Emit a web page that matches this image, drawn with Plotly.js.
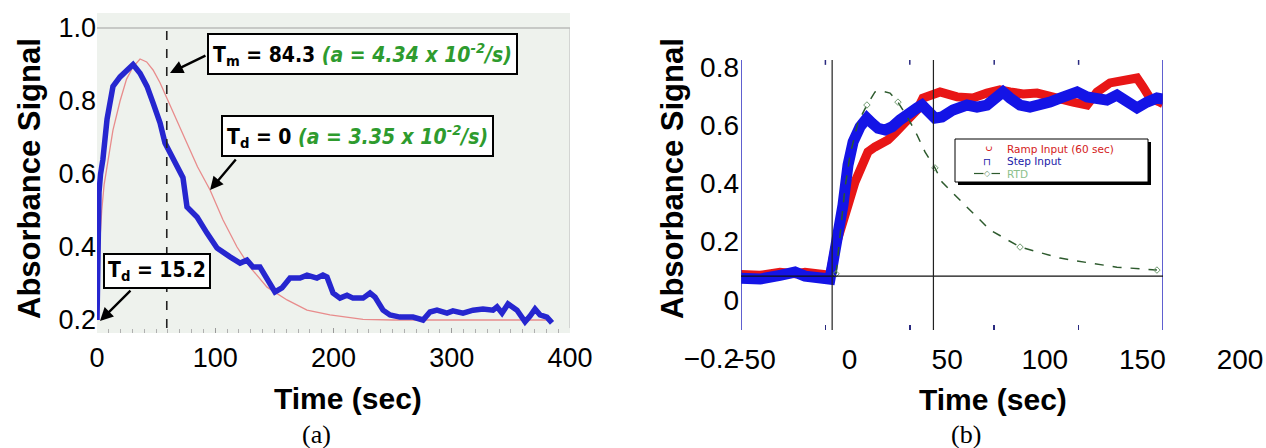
<!DOCTYPE html>
<html><head><meta charset="utf-8">
<script src="https://cdn.plot.ly/plotly-3.0.1.min.js"></script>
<style>html,body{margin:0;padding:0;background:#fff}#chart{width:1266px;height:448px}</style>
</head><body><div id="chart"></div>
<script>
// ---------- Panel (a) data ----------
const aMeasTime   = [0,0.8,1.7,3,5,8.5,13.5,19.5,25,30.5,36.4,42.3,47.4,53.3,57.5,61.7,64.3,67.6,72.7,76.1,84.6,93,101.5,112.5,121,126.8,131.9,137.8,143.8,150.5,156.4,163.2,171.7,177.6,186,191.1,194.5,199.6,205.5,211.4,216.5,225,230.9,235.1,241.9,247.8,256.2,267.2,275.7,281.6,287.5,296,301,309.5,318,326.4,334.9,338.3,342.5,347.6,355.2,359.4,362,366.2,370.4,374.6,380.5,384.8];
const aMeasSignal = [0.2,0.40,0.55,0.60,0.64,0.75,0.84,0.866,0.885,0.90,0.876,0.84,0.795,0.74,0.685,0.66,0.64,0.625,0.59,0.51,0.482,0.438,0.397,0.373,0.356,0.364,0.345,0.345,0.31,0.277,0.288,0.315,0.315,0.323,0.315,0.323,0.318,0.274,0.26,0.268,0.26,0.26,0.274,0.263,0.227,0.214,0.208,0.208,0.2,0.222,0.227,0.219,0.225,0.219,0.227,0.23,0.227,0.236,0.219,0.244,0.227,0.208,0.195,0.211,0.23,0.214,0.208,0.192];
const aModelTime   = [0,1,2.5,4,6,8.5,13.5,19.5,25,30.4,36.4,42,47.4,53.3,60,67.6,76,85,95.6,106.6,118.4,129.4,143.8,160.7,177.6,197,225,250,300,350,385];
const aModelSignal = [0.2,0.3,0.42,0.5,0.57,0.62,0.72,0.80,0.86,0.893,0.915,0.907,0.885,0.85,0.80,0.745,0.685,0.62,0.556,0.474,0.40,0.345,0.29,0.255,0.227,0.214,0.202,0.2,0.2,0.2,0.2];
const aDashTime = 59;
const aXTicks = [0,100,200,300,400];
const aYTicks = [0.2,0.4,0.6,0.8,1.0];
const aYTickText = ['0.2','0.4','0.6','0.8','1.0'];

// ---------- Panel (b) data ----------
const bRampTime   = [-50,-38.7,-26.9,-18,-12.1,-3.2,2.7,5.7,9.8,13.4,17.5,21.7,25.2,29.4,33.5,37.1,41.2,45.4,48.9,54.3,57.8,63.2,67.9,78,87.4,95.7,103.4,109.4,117.1,125.4,133.1,139,146.7,155,160.9,168.6,176.3,184.6,188.2,192.3,198.2,200];
const bRampSignal = [0.088,0.085,0.095,0.09,0.095,0.09,0.085,0.179,0.247,0.326,0.405,0.474,0.509,0.526,0.54,0.55,0.574,0.601,0.625,0.653,0.694,0.704,0.715,0.698,0.694,0.711,0.722,0.715,0.708,0.711,0.698,0.694,0.68,0.67,0.715,0.746,0.756,0.763,0.732,0.694,0.68,0.675];
const bStepTime   = [-50,-38.7,-26.9,-18,-12.1,-3.2,2.7,4.5,7.5,10.4,13.4,16.4,20.5,24.6,27.6,31.2,35.3,39.5,44.2,48.9,54.3,57.2,60.8,64.9,69.1,75.6,83.9,89.8,95.7,101.7,105.2,109.4,115.3,121.2,127.1,133.1,139,144.9,149.1,155,160.9,166.8,172.7,178.7,184.6,190.5,196.4,200];
const bStepSignal = [0.075,0.072,0.085,0.096,0.082,0.075,0.072,0.13,0.223,0.326,0.464,0.543,0.595,0.625,0.608,0.59,0.584,0.595,0.619,0.643,0.66,0.67,0.643,0.625,0.629,0.653,0.67,0.663,0.67,0.694,0.715,0.694,0.67,0.663,0.67,0.68,0.694,0.704,0.715,0.698,0.694,0.687,0.704,0.68,0.66,0.68,0.694,0.69];
const bRtdTime   = [6.3,11.6,14.6,19.3,24.6,29.4,33.5,38.3,43,48.9,54.3,59,64.9,69.1,81.5,97.5,115.3,139,156.8,172.7,196.4];
const bRtdSignal = [0.09,0.385,0.498,0.61,0.67,0.715,0.718,0.711,0.68,0.625,0.567,0.509,0.454,0.405,0.333,0.241,0.182,0.144,0.127,0.113,0.103];
const bBaseline = 0.082;
const bStartTime = 4;
const bEndTime = 64;
const bXTicks = [-50,0,50,100,150,200];
const bYTicks = [-0.2,0,0.2,0.4,0.6,0.8];
const bYTickText = ['\u22120.2','0','0.2','0.4','0.6','0.8'];
const bLegendNames = ['Ramp Input (60 sec)', 'Step Input', 'RTD'];
const bLegendColors = ['#d42020', '#2020a8', '#8cbf8c'];

// ---------- helpers (pixel -> paper) ----------
const W = 1266, H = 448;
const PX = x => x / W;
const PY = y => 1 - y / H;

const GREEN_TXT = '#2e9b2e';
const NARROW = 'Liberation Sans Narrow, DejaVu Sans Condensed, Arial Narrow, sans-serif';
const SANS = 'Liberation Sans, Arial, sans-serif';
const SERIF = 'Liberation Serif, Times New Roman, serif';

const traces = [
  {x: aModelTime, y: aModelSignal, xaxis: 'x', yaxis: 'y', mode: 'lines',
   line: {color: '#e88c8c', width: 1.3}, hoverinfo: 'skip'},
  {x: aMeasTime, y: aMeasSignal, xaxis: 'x', yaxis: 'y', mode: 'lines',
   line: {color: '#2626cf', width: 5.5}, hoverinfo: 'skip'},
  {x: bRampTime, y: bRampSignal, xaxis: 'x2', yaxis: 'y2', mode: 'lines',
   name: bLegendNames[0], line: {color: '#e81616', width: 9}},
  {x: bStepTime, y: bStepSignal, xaxis: 'x2', yaxis: 'y2', mode: 'lines',
   name: bLegendNames[1], line: {color: '#1414e6', width: 11}},
  {x: bRtdTime, y: bRtdSignal, xaxis: 'x2', yaxis: 'y2', mode: 'lines+markers',
   name: bLegendNames[2], line: {color: '#2d5a2d', width: 1.5, dash: 'dash'},
   marker: {symbol: 'diamond-open', size: 5, color: '#6f9a6f', maxdisplayed: 6}},
  // label layer of panel (b)
  {x: [null], y: [null], xaxis: 'x3', yaxis: 'y3', mode: 'markers', hoverinfo: 'skip'}
];

const tickFont = {family: SANS, size: 27, color: '#000'};

// custom legend for panel (b)
const legX0 = 955, legX1 = 1148, legY0 = 139, legY1 = 182;
const legRowsY = [148.5, 161, 173.5];

// top tick marks of panel (b), placed on the data axis
const topTicks = bXTicks.slice(1, -1).map(v => ({type: 'line', xref: 'x2', yref: 'y2 domain',
  x0: v, x1: v, y0: 0.982, y1: 1, line: {color: '#2a2a80', width: 1.5}}));

const layout = {
  width: W, height: H,
  margin: {l: 0, r: 0, t: 0, b: 0},
  paper_bgcolor: '#ffffff',
  plot_bgcolor: 'rgba(0,0,0,0)',
  showlegend: false,
  xaxis: {domain: [PX(97), PX(570)], range: [0, 400], anchor: 'y',
          tickvals: aXTicks, ticktext: aXTicks.map(String), tickfont: tickFont,
          ticks: 'inside', ticklen: 5, tickcolor: '#9a9a9a',
          minor: {dtick: 10, ticks: 'inside', ticklen: 4, tickcolor: '#b0b0b0'},
          showgrid: false, zeroline: false, showline: false, ticklabelstandoff: 6},
  yaxis: {domain: [PY(333), PY(13)], range: [0.1644, 1.0411], anchor: 'x',
          tickvals: aYTicks, ticktext: aYTickText, tickfont: tickFont,
          ticks: '', showgrid: false, zeroline: false, showline: false, ticklabelstandoff: 0},
  xaxis2: {domain: [PX(741), PX(1163)], range: [-50, 200], anchor: 'y2',
           tickvals: bXTicks, showticklabels: false, ticks: 'inside', ticklen: 5,
           tickcolor: '#2a2a80', tickwidth: 1.5,
           showline: false, showgrid: false, zeroline: false},
  yaxis2: {domain: [PY(330), PY(60)], range: [-0.103, 0.8247], anchor: 'x2',
           showticklabels: false, ticks: '', showgrid: false, zeroline: false, showline: false},
  xaxis3: {domain: [PX(752), PX(1240)], range: [-50, 200], anchor: 'free', position: PY(340),
           tickvals: bXTicks, ticktext: bXTicks.map(v => v < 0 ? '\u2212' + Math.abs(v) : String(v)),
           tickfont: {family: SANS, size: 28, color: '#000'}, ticks: '',
           showgrid: false, zeroline: false, showline: false, ticklabelstandoff: 0},
  yaxis3: {domain: [PY(358), PY(67)], range: [-0.2, 0.8], anchor: 'free', position: PX(741),
           tickvals: bYTicks, ticktext: bYTickText,
           tickfont: {family: SANS, size: 28, color: '#000'}, ticks: '',
           showgrid: false, zeroline: false, showline: false, ticklabelstandoff: 2},
  shapes: [
    // panel (a) background and frame
    {type: 'rect', xref: 'x domain', yref: 'y domain', x0: 0, x1: 1, y0: 0, y1: 1,
     fillcolor: '#eef2ed', line: {width: 0}, layer: 'below'},
    {type: 'line', xref: 'x domain', yref: 'y', x0: 0, x1: 1, y0: 1.0, y1: 1.0,
     line: {color: '#a0a0a0', width: 1.2}, layer: 'below'},
    {type: 'line', xref: 'x', yref: 'y', x0: 400, x1: 400, y0: 0.178, y1: 1.0,
     line: {color: '#b8b8b8', width: 1}, layer: 'below'},
    {type: 'line', xref: 'x', yref: 'y', x0: aDashTime, x1: aDashTime, y0: 0.178, y1: 1.0,
     line: {color: '#222', width: 1.6, dash: 'dash'}},
    // panel (b) frame and reference lines
    {type: 'line', xref: 'x2', yref: 'y2 domain', x0: -50, x1: -50, y0: 0, y1: 1,
     line: {color: '#2b2bc0', width: 1.5}},
    {type: 'line', xref: 'x2', yref: 'y2 domain', x0: 200, x1: 200, y0: 0, y1: 1,
     line: {color: '#2b2bc0', width: 1.5}},
    ...topTicks,
    {type: 'line', xref: 'x2', yref: 'y2', x0: -50, x1: 200, y0: bBaseline, y1: bBaseline,
     line: {color: '#111', width: 1.3}},
    {type: 'line', xref: 'x2', yref: 'y2 domain', x0: bStartTime, x1: bStartTime, y0: 0, y1: 1,
     line: {color: '#222', width: 1.2}},
    {type: 'line', xref: 'x2', yref: 'y2 domain', x0: bEndTime, x1: bEndTime, y0: 0, y1: 1,
     line: {color: '#222', width: 1.2}},
    // legend: shadow, box, RTD symbol line
    {type: 'rect', xref: 'paper', yref: 'paper', x0: PX(legX0 + 3), x1: PX(legX1 + 3), y0: PY(legY1 + 3), y1: PY(legY0 + 3),
     fillcolor: '#000', line: {width: 0}},
    {type: 'rect', xref: 'paper', yref: 'paper', x0: PX(legX0), x1: PX(legX1), y0: PY(legY1), y1: PY(legY0),
     fillcolor: '#fff', line: {color: '#000', width: 1}},
    {type: 'line', xref: 'paper', yref: 'paper', x0: PX(974), x1: PX(1000), y0: PY(legRowsY[2]), y1: PY(legRowsY[2]),
     line: {color: '#2d5a2d', width: 1.2}}
  ],
  annotations: [
    // boxes panel (a)
    {xref: 'paper', yref: 'paper', x: PX(207), y: PY(33), xanchor: 'left', yanchor: 'top',
     text: "<b>T<sub>m</sub> = 84.3 </b><span style='color:" + GREEN_TXT + "'><b><i>(a = 4.34 x 10<sup>-2</sup>/s)</i></b></span>",
     showarrow: false, font: {family: NARROW, size: 21, color: '#000'},
     bgcolor: '#fff', bordercolor: '#000', borderwidth: 2, borderpad: 4},
    {xref: 'paper', yref: 'paper', x: PX(221), y: PY(115), xanchor: 'left', yanchor: 'top',
     text: "<b>T<sub>d</sub> = 0 </b><span style='color:" + GREEN_TXT + "'><b><i>(a = 3.35 x 10<sup>-2</sup>/s)</i></b></span>",
     showarrow: false, font: {family: NARROW, size: 21, color: '#000'},
     bgcolor: '#fff', bordercolor: '#000', borderwidth: 2, borderpad: 4},
    {xref: 'paper', yref: 'paper', x: PX(103), y: PY(253), xanchor: 'left', yanchor: 'top',
     text: "<b>T<sub>d</sub> = 15.2</b>",
     showarrow: false, font: {family: NARROW, size: 21, color: '#000'},
     bgcolor: '#fff', bordercolor: '#000', borderwidth: 2, borderpad: 3},
    // arrows panel (a)
    {xref: 'x', yref: 'y', x: 61.7, y: 0.877, ax: 37, ay: -18, text: '', showarrow: true,
     arrowhead: 2, arrowsize: 1.1, arrowwidth: 2.4, arrowcolor: '#000'},
    {xref: 'x', yref: 'y', x: 95.6, y: 0.556, ax: 27, ay: -32, text: '', showarrow: true,
     arrowhead: 2, arrowsize: 1.1, arrowwidth: 2.4, arrowcolor: '#000'},
    {xref: 'x', yref: 'y', x: 2.5, y: 0.197, ax: 32, ay: -32, text: '', showarrow: true,
     arrowhead: 2, arrowsize: 1.1, arrowwidth: 2.4, arrowcolor: '#000'},
    // axis titles
    {xref: 'paper', yref: 'paper', x: PX(29), y: PY(179), xanchor: 'center', yanchor: 'middle',
     text: '<b>Absorbance Signal</b>', textangle: -90,
     showarrow: false, font: {family: SANS, size: 31, color: '#000'}},
    {xref: 'paper', yref: 'paper', x: PX(348), y: PY(398), xanchor: 'center', yanchor: 'middle',
     text: '<b>Time (sec)</b>', showarrow: false, font: {family: SANS, size: 30, color: '#000'}},
    {xref: 'paper', yref: 'paper', x: PX(672), y: PY(179), xanchor: 'center', yanchor: 'middle',
     text: '<b>Absorbance Signal</b>', textangle: -90,
     showarrow: false, font: {family: SANS, size: 31, color: '#000'}},
    {xref: 'paper', yref: 'paper', x: PX(993), y: PY(399), xanchor: 'center', yanchor: 'middle',
     text: '<b>Time (sec)</b>', showarrow: false, font: {family: SANS, size: 30, color: '#000'}},
    // panel labels
    {xref: 'paper', yref: 'paper', x: PX(316), y: PY(434), xanchor: 'center', yanchor: 'middle',
     text: '(a)', showarrow: false, font: {family: SERIF, size: 26, color: '#000'}},
    {xref: 'paper', yref: 'paper', x: PX(966), y: PY(434), xanchor: 'center', yanchor: 'middle',
     text: '(b)', showarrow: false, font: {family: SERIF, size: 26, color: '#000'}},
    // legend entries panel (b)
    ...bLegendNames.map((n, i) => ({xref: 'paper', yref: 'paper', x: PX(1006), y: PY(legRowsY[i]),
      xanchor: 'left', yanchor: 'middle', text: n, showarrow: false, borderpad: 0,
      font: {family: 'DejaVu Sans, sans-serif', size: 10.5, color: bLegendColors[i]}})),
    {xref: 'paper', yref: 'paper', x: PX(987), y: PY(legRowsY[0]), xanchor: 'center', yanchor: 'middle',
     text: 'c', textangle: -90, showarrow: false, borderpad: 0, font: {family: 'DejaVu Sans, sans-serif', size: 10.5, color: '#d42020'}},
    {xref: 'paper', yref: 'paper', x: PX(987), y: PY(legRowsY[1]), xanchor: 'center', yanchor: 'middle',
     text: '\u2293', showarrow: false, borderpad: 0, font: {family: 'DejaVu Sans, sans-serif', size: 10, color: '#2020a8'}},
    {xref: 'paper', yref: 'paper', x: PX(987), y: PY(legRowsY[2]), xanchor: 'center', yanchor: 'middle',
     text: '\u25C7', showarrow: false, borderpad: 0, bgcolor: '#fff', font: {family: 'DejaVu Sans, sans-serif', size: 8, color: '#6f9a6f'}}
  ]
};

Plotly.newPlot('chart', traces, layout, {displayModeBar: false, staticPlot: true});
</script>
</body></html>
